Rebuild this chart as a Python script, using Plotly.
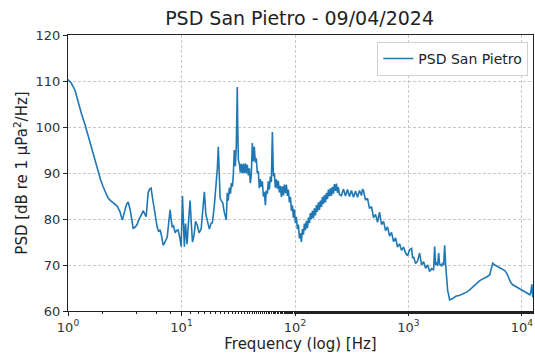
import plotly.graph_objects as go

freq_hz = [
    1.0, 1.07, 1.153, 1.225, 1.31, 1.413, 1.49, 1.564, 1.65, 1.73, 1.84, 1.94, 2.04, 2.14, 2.25,
    2.37, 2.5, 2.6, 2.71, 2.88, 3.0, 3.09, 3.18, 3.28, 3.39, 3.53, 3.64, 3.75, 3.9, 4.06, 4.2,
    4.32, 4.45, 4.59, 4.74, 4.88, 4.98, 5.08, 5.25, 5.4, 5.52, 5.63, 5.85, 6.1, 6.3, 6.49, 6.69,
    6.89, 7.1, 7.3, 7.48, 7.7, 7.94, 8.1, 8.28, 8.5, 8.8, 9.05, 9.35, 9.65, 9.94, 10.2, 10.45,
    10.6, 10.85, 11.2, 11.5, 11.9, 12.2, 12.5, 12.9, 13.3, 13.8, 14.3, 14.9, 15.4, 15.9, 16.4,
    16.9, 17.6, 18.2, 18.7, 19.4, 20.2, 20.7, 21.1, 21.5, 21.9, 22.4, 23.1, 23.8, 24.4, 24.8,
    25.3, 25.8, 26.4, 27.0, 27.5, 28.1, 28.6, 29.2, 29.8, 30.4, 30.8, 31.0, 31.3, 31.7,
    32.3, 33.0, 33.6, 34.3, 35.0, 35.7, 36.5, 37.2, 38.0, 38.8, 39.6, 40.4, 41.2, 42.1, 42.9,
    43.8, 44.7, 45.6, 46.6, 47.5, 48.5, 49.5, 50.5, 51.6, 52.6, 53.7, 54.8, 55.9, 57.1, 58.2,
    59.4, 60.6, 61.9, 63.2, 64.5, 65.8, 67.1, 68.5, 69.9, 71.3, 72.8, 74.3, 75.9, 77.4, 79.0,
    80.6, 82.3, 84.0, 85.7, 87.4, 89.3, 91.1, 93.0, 94.9, 96.8, 98.8, 100.8, 102.9, 105, 107.2,
    109.4, 111.6, 113.9, 116.2, 118.6, 121.0, 123.5, 126.0, 128.7, 131.3, 134, 136.7, 139.6,
    142.4, 145.4, 148.3, 151.4, 154.5, 157.7, 160.9, 164.2, 167.6, 171, 174.5, 178.1, 181.8,
    185.5, 189.3, 193.2, 197.1, 201.2, 205.3, 209.5, 213.8, 218.2, 222.7, 227.3, 231.9, 236.7,
    241.5, 246.5, 256.7, 267.4, 278.5, 290,
    302, 314.6, 327.6, 341.2, 355.4, 370, 385.4, 394, 401.4, 418.1, 435.4, 453.4, 472.3, 491.8,
    512.2, 533.5, 555.6, 578.7, 602.7, 627.6, 653.7, 680.8, 709, 738.5, 769.1, 801, 834.2,
    868.8, 904.9, 942.4, 981.5, 1022, 1065, 1087, 1109, 1155, 1203, 1253, 1279, 1305, 1359,
    1415, 1474, 1535, 1599, 1665, 1700, 1734, 1771, 1806, 1844, 1881, 1959, 2000, 2040, 2083,
    2125, 2168, 2213, 2305, 2450, 2610, 2825, 3060, 3258, 3460, 3681, 4010, 4244, 4600, 4893,
    5200, 5360, 5525, 5770, 6115, 6500, 7047, 7342, 7650, 7960, 8297, 8995, 9566, 10160, 10800,
    11250, 11720, 11960, 12210, 12450,
]

psd_db = [
    110.3, 109.5, 108, 105.5, 103, 100.5, 98.5, 96.5, 94.5, 92.8, 90.2, 88.5, 87, 85.8, 84.6,
    84, 83.5, 83.3, 82.8, 81.5, 79.8, 80.8, 82, 83.2, 83.7, 82, 80, 78, 78.2, 78.8, 79.8,
    80.3, 81, 81.8, 81.2, 80.5, 83, 85.7, 86.5, 86.7, 85, 83.5, 80.5, 78.3, 77.2, 77.7, 76.2,
    74.3, 74.8, 75.6, 76, 79, 82, 80, 78.3, 78.5, 77, 77.5, 77.6, 76, 74, 85, 78,
    74, 79, 74.5, 79, 84, 79, 75, 76.5, 79.5, 78.6, 77, 77.8, 82, 85.9, 81,
    79.8, 77.8, 79, 79.2, 82.5, 87, 91, 95.7, 88, 84.5, 84, 83.5, 81.5, 80.5, 79.8,
    85.7, 84, 86.8, 85.5, 87.8, 87, 89.5, 95, 91.5, 96, 104, 108.7, 100, 92.8,
    92.1, 90.1, 92.0, 89.9, 92.0, 90.0, 92.1, 89.9, 91.8, 89.5, 91.0, 87.8, 89.6, 96.5, 92.5,
    95.7, 92.3, 93.2, 89.9, 90.4, 86.7, 88.7, 87.0, 88.2, 84.9, 85.9, 83.0, 86.2, 85.5, 88.2,
    86.4, 89.2, 88.0, 98.9, 89.3, 90.0, 86.8, 88.6, 86.6, 88.3, 85.8, 87.2, 84.8, 87.1, 85.1,
    87.5, 85.6, 87.5, 85.0, 86.4, 83.6, 84.8, 81.8, 83.0, 80.3, 82.1, 79.1, 80.5, 77.8, 78.8,
    75.8, 76.9, 75.0, 77.8, 76.6, 79.0, 77.6, 79.6, 78.0, 80.3, 79.1, 81.3, 79.9,
    81.8, 80.2, 82.3, 80.8, 83.0, 81.6, 83.6, 82.0, 84.0, 82.6, 84.8, 83.3, 85.2,
    83.6, 85.7, 84.3, 86.4, 84.9, 86.7, 85.0, 87.0, 85.5, 87.6, 86.1, 87.7, 85.7,
    86.9, 85.3, 85.1, 86.5, 85, 86.4,
    84.9, 86.2, 84.7, 86.1, 84.7, 86.2, 85.1, 86.5, 86.2, 84.1, 84.5, 82.3, 82.7, 80.3,
    81, 79.3, 81.5, 78.8, 79.5, 77.5, 78.3, 76.3, 77.1, 75.1, 75.9, 73.9, 74.6,
    73.2, 73.9, 72.6, 72.0, 73.3, 73.6, 71.5, 71.8, 70.3, 70.9, 72.6, 70.5, 70, 70.7,
    69.3, 70, 68.6, 69.2, 68.9, 74, 70, 70.6, 69.8, 72.6, 70.2, 69.8, 70.5, 70, 74.3,
    70, 67, 64.5, 62.4, 62.7, 63.2, 63.4, 63.8, 64.1, 64.6, 65.2, 66, 66.6, 67.1, 67.4,
    67.9, 69, 70.4, 70, 69.6, 69.2, 68.8, 68.2, 67, 66.2, 65.7, 65.2, 64.9, 64.6, 64.2,
    63.8, 63.5, 64, 65.8, 63,
]

x_tick_vals = [1, 10, 100, 1000, 10000]
x_tick_text = ["10<sup>0</sup>", "10<sup>1</sup>", "10<sup>2</sup>", "10<sup>3</sup>", "10<sup>4</sup>"]
y_tick_vals = [60, 70, 80, 90, 100, 110, 120]

fig = go.Figure()
fig.add_trace(go.Scatter(
    x=freq_hz, y=psd_db, mode="lines", name="PSD San Pietro",
    line=dict(color="#1f77b4", width=1.6),
))

axis_common = dict(
    showline=True, linecolor="#222", linewidth=1, mirror=True,
    ticks="outside", ticklen=4, tickcolor="#222",
    showgrid=True, gridcolor="#c8c8c8", griddash="3px,2px", gridwidth=1,
    zeroline=False, tickfont=dict(size=13, color="#333"),
)

fig.update_layout(
    width=535, height=358,
    margin=dict(l=68, r=2, t=35, b=47),
    paper_bgcolor="white", plot_bgcolor="white",
    font=dict(family="DejaVu Sans", color="#222"),
    title=dict(text="PSD San Pietro - 09/04/2024", x=0.56, xanchor="center",
               y=0.95, yanchor="middle", font=dict(size=19, color="#222")),
    showlegend=True,
    legend=dict(x=0.99, y=0.975, xanchor="right", yanchor="top", itemwidth=30,
                bgcolor="rgba(255,255,255,0.9)", bordercolor="#d0d0d0", borderwidth=1,
                font=dict(size=14, color="#222")),
    xaxis=dict(type="log", range=[0, 4.097], tickvals=x_tick_vals, ticktext=x_tick_text,
               title=dict(text="Frequency (log) [Hz]", font=dict(size=15), standoff=4),
               minor=dict(ticks="outside", ticklen=2, tickcolor="#222", showgrid=False),
               **axis_common),
    yaxis=dict(range=[60, 120], tickvals=y_tick_vals,
               title=dict(text="PSD [dB re 1 μPa<sup>2</sup>/Hz]", font=dict(size=15), standoff=4),
               **axis_common),
)

fig.write_html("out.html")
